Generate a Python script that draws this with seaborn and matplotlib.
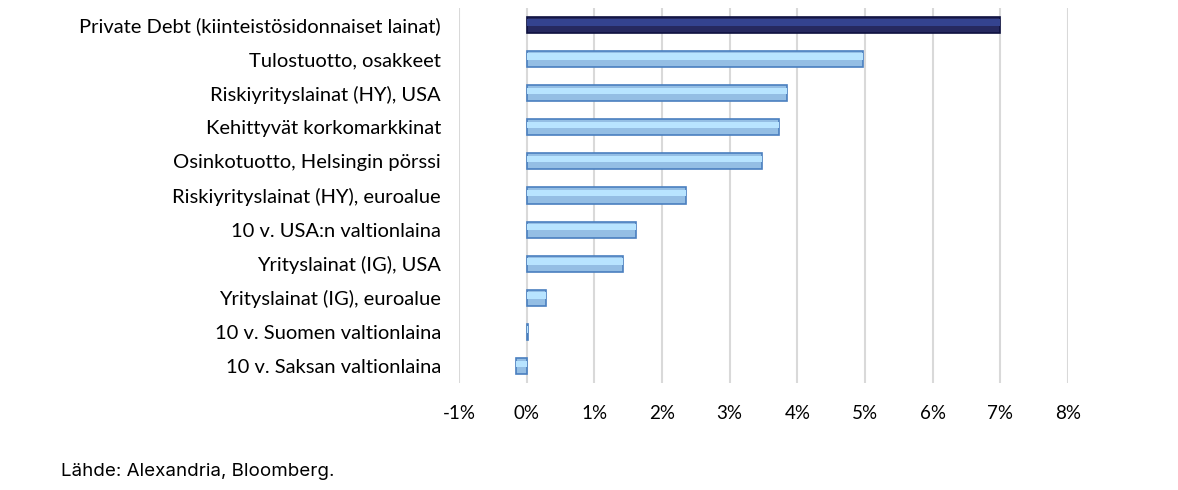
import numpy as np
import pandas as pd
import seaborn as sns
import matplotlib.pyplot as plt
from matplotlib.ticker import FuncFormatter

# data (expected return, %)
labels = ['Private Debt (kiinteistösidonnaiset lainat)',
          'Tulostuotto, osakkeet',
          'Riskiyrityslainat (HY), USA',
          'Kehittyvät korkomarkkinat',
          'Osinkotuotto, Helsingin pörssi',
          'Riskiyrityslainat (HY), euroalue',
          '10 v. USA:n valtionlaina',
          'Yrityslainat (IG), USA',
          'Yrityslainat (IG), euroalue',
          '10 v. Suomen valtionlaina',
          '10 v. Saksan valtionlaina']
values = [7.0, 4.97, 3.85, 3.73, 3.48, 2.36, 1.62, 1.43, 0.29, 0.02, -0.15]
ticks = [-1, 0, 1, 2, 3, 4, 5, 6, 7, 8]

df = pd.DataFrame({'label': labels, 'value': values})
df['group'] = ['main'] + ['other'] * (len(labels) - 1)

sns.set_style('white')
plt.rcParams['font.family'] = ['Lato', 'DejaVu Sans']

fig = plt.figure(figsize=(11.78, 4.90), dpi=100)
ax = fig.add_axes([0.3896, 0.218, 0.517, 0.766])

pal = {'main': '#1C2169', 'other': '#86BFF2'}
sns.barplot(data=df, x='value', y='label', hue='group', palette=pal,
            dodge=False, legend=False, width=0.47, ax=ax, zorder=3)

edges = {'main': '#0E1140', 'other': '#4A7FBF'}
for bar, g in zip(ax.patches, df['group']):
    bar.set_edgecolor(edges[g])
    bar.set_linewidth(1.2)
    # lighter band to hint at the bevel look
    x0, y0 = bar.get_x(), bar.get_y()
    w, h = bar.get_width(), bar.get_height()
    hl = '#34438F' if g == 'main' else '#B8E4FF'
    ax.add_patch(plt.Rectangle((x0, y0 + h * 0.15), w, h * 0.4,
                               facecolor=hl, edgecolor='none', zorder=4))

ax.set_xlim(-1, 8)
ax.set_xticks(ticks)
ax.xaxis.set_major_formatter(FuncFormatter(lambda v, p: f'{v:.0f}%'))
ax.grid(axis='x', color='#D9D9D9', linewidth=1.5, zorder=0)
ax.grid(axis='y', visible=False)
ax.set_xlabel('')
ax.set_ylabel('')
for s in ax.spines.values():
    s.set_visible(False)
ax.tick_params(axis='both', length=0, colors='black')
ax.tick_params(axis='x', pad=16, labelsize=13.5)
ax.tick_params(axis='y', pad=13, labelsize=14.5)

fig.text(0.052, 0.028, 'Lähde: Alexandria, Bloomberg.', fontsize=13.5,
         family=['Inter', 'DejaVu Sans'], color='black')

fig.savefig('out.png', dpi=100)
